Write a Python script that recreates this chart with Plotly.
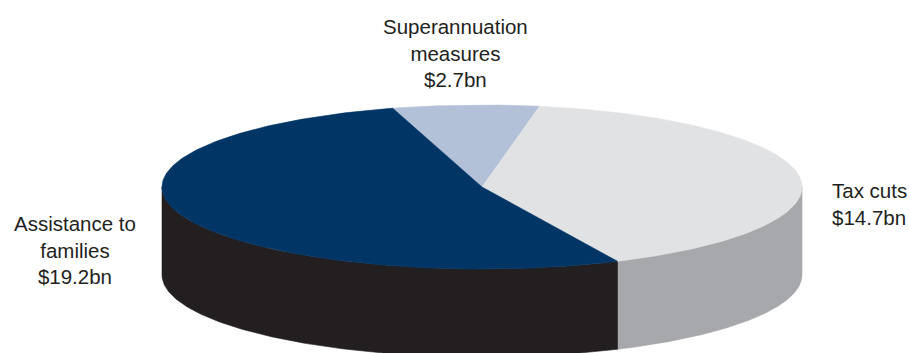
import numpy as np
import plotly.graph_objects as go

# Budget measures (A$ billion)
labels = ["Superannuation measures", "Tax cuts", "Assistance to families"]
values = [2.7, 14.7, 19.2]
label_text = ["Superannuation<br>measures<br>$2.7bn", "Tax cuts<br>$14.7bn", "Assistance to<br>families<br>$19.2bn"]
top_colors = ["#b3c1d8", "#e1e2e4", "#003566"]
side_colors = ["#8e9bb0", "#a7a8ab", "#231f20"]

W, H = 910, 353
CX, CY = 482, 187          # centre of the top face
RX, RY = 320, 82           # radii of the elliptical top face
DEPTH = 88                 # thickness of the disc
START = 106.2              # angle (deg) where the first slice begins; slices run clockwise


def arc(a0, a1, n=240, dy=0.0):
    t = np.radians(np.linspace(a0, a1, n))
    return CX + RX * np.cos(t), CY - RY * np.sin(t) + dy


total = float(sum(values))
spans = []
ang = START
for v in values:
    sweep = v / total * 360.0
    spans.append((ang - sweep, ang))  # (low, high) angles in degrees
    ang -= sweep

fig = go.Figure()

# Side walls: only the front half (angles 180..360 mod 360) is visible
for (lo, hi), col in zip(spans, side_colors):
    for k in (-1, 0, 1):
        a0 = max(lo, 180 + 360 * k)
        a1 = min(hi, 360 + 360 * k)
        if a1 <= a0:
            continue
        xt, yt = arc(a0, a1)
        xb, yb = arc(a1, a0, dy=DEPTH)
        xs = np.concatenate([xt, xb, xt[:1]])
        ys = np.concatenate([yt, yb, yt[:1]])
        fig.add_trace(go.Scatter(x=xs, y=ys, mode="lines", fill="toself",
                                 fillcolor=col, line=dict(color=col, width=0.6),
                                 hoverinfo="skip", showlegend=False))

# Top faces
for (lo, hi), col in zip(spans, top_colors):
    xa, ya = arc(lo, hi)
    xs = np.concatenate([[CX], xa, [CX]])
    ys = np.concatenate([[CY], ya, [CY]])
    fig.add_trace(go.Scatter(x=xs, y=ys, mode="lines", fill="toself",
                             fillcolor=col, line=dict(color=col, width=0.6),
                             hoverinfo="skip", showlegend=False))

font = dict(family="Liberation Sans, Arial, sans-serif", size=20.5, color="#231f20")
fig.add_annotation(x=455, y=53, text=label_text[0], showarrow=False,
                   xanchor="center", yanchor="middle", align="center", font=font)
fig.add_annotation(x=830, y=204, text=label_text[1], showarrow=False,
                   xanchor="left", yanchor="middle", align="left", font=font)
fig.add_annotation(x=75, y=250, text=label_text[2], showarrow=False,
                   xanchor="center", yanchor="middle", align="center", font=font)

fig.update_layout(
    width=W, height=H,
    margin=dict(l=0, r=0, t=0, b=0),
    paper_bgcolor="white", plot_bgcolor="white",
    xaxis=dict(range=[0, W], visible=False, fixedrange=True),
    yaxis=dict(range=[H, 0], visible=False, fixedrange=True),
    showlegend=False,
)

fig.write_html("out.html")
